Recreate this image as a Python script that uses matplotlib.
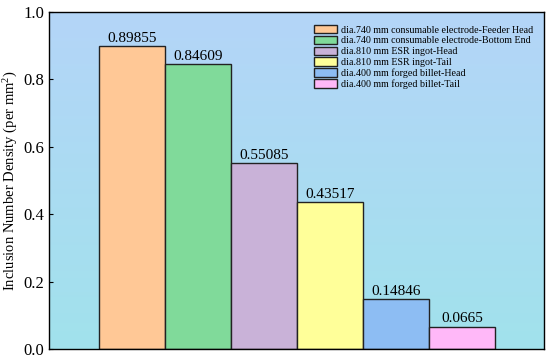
import numpy as np
import matplotlib.pyplot as plt
from matplotlib.colors import LinearSegmentedColormap

labels = ['dia.740 mm consumable electrode-Feeder Head',
          'dia.740 mm consumable electrode-Bottom End',
          'dia.810 mm ESR ingot-Head',
          'dia.810 mm ESR ingot-Tail',
          'dia.400 mm forged billet-Head',
          'dia.400 mm forged billet-Tail']
values = [0.89855, 0.84609, 0.55085, 0.43517, 0.14846, 0.0665]
value_text = ['0.89855', '0.84609', '0.55085', '0.43517', '0.14846', '0.0665']
colors = ['#FFC896', '#80DA9A', '#C9B2D8', '#FFFF99', '#8DBDF3', '#FFB8F8']

plt.rcParams['font.family'] = ['Liberation Serif', 'DejaVu Serif']
plt.rcParams['mathtext.fontset'] = 'custom'
plt.rcParams['mathtext.rm'] = 'Liberation Serif'

fig = plt.figure(figsize=(5.5, 3.58), dpi=100)
ax = fig.add_axes([49 / 550, 1 - 349 / 358, 495 / 550, 337 / 358])

xmin, xmax = -0.258, 7.242
ax.set_xlim(xmin, xmax)
ax.set_ylim(0, 1.0)

# gradient background
cmap = LinearSegmentedColormap.from_list('bg', ['#A1E2EC', '#B4D5F8'])
grad = np.linspace(0, 1, 256).reshape(-1, 1)
ax.imshow(grad, cmap=cmap, origin='lower', aspect='auto',
          extent=[xmin, xmax, 0, 1.0], zorder=0)

x = np.arange(1, len(values) + 1)
bars = ax.bar(x, values, width=1.0, color=colors, edgecolor='#222222',
              linewidth=1.0, label=labels, zorder=2)
for xi, v, t in zip(x, values, value_text):
    ax.text(xi, v + 0.004, t, ha='center', va='bottom', fontsize=11, zorder=3)

ax.set_xticks([])
ax.set_yticks(np.arange(0, 1.01, 0.2))
ax.yaxis.set_major_formatter(plt.FormatStrFormatter('%.1f'))
ax.tick_params(axis='y', direction='in', length=3, labelsize=12)
ax.set_ylabel('Inclusion Number Density (per mm$\\mathrm{^2}$)', fontsize=10.5,
              labelpad=2)
for s in ax.spines.values():
    s.set_linewidth(1.0)

leg = ax.legend(loc='upper right', bbox_to_anchor=(0.995, 0.985), fontsize=7.2,
                frameon=True, fancybox=False, edgecolor='#333333',
                framealpha=0, handlelength=2.3, handleheight=0.9,
                labelspacing=0.12, handletextpad=0.4, borderpad=0.3)
leg.get_frame().set_linewidth(0.8)

plt.savefig('out.png', dpi=100)
